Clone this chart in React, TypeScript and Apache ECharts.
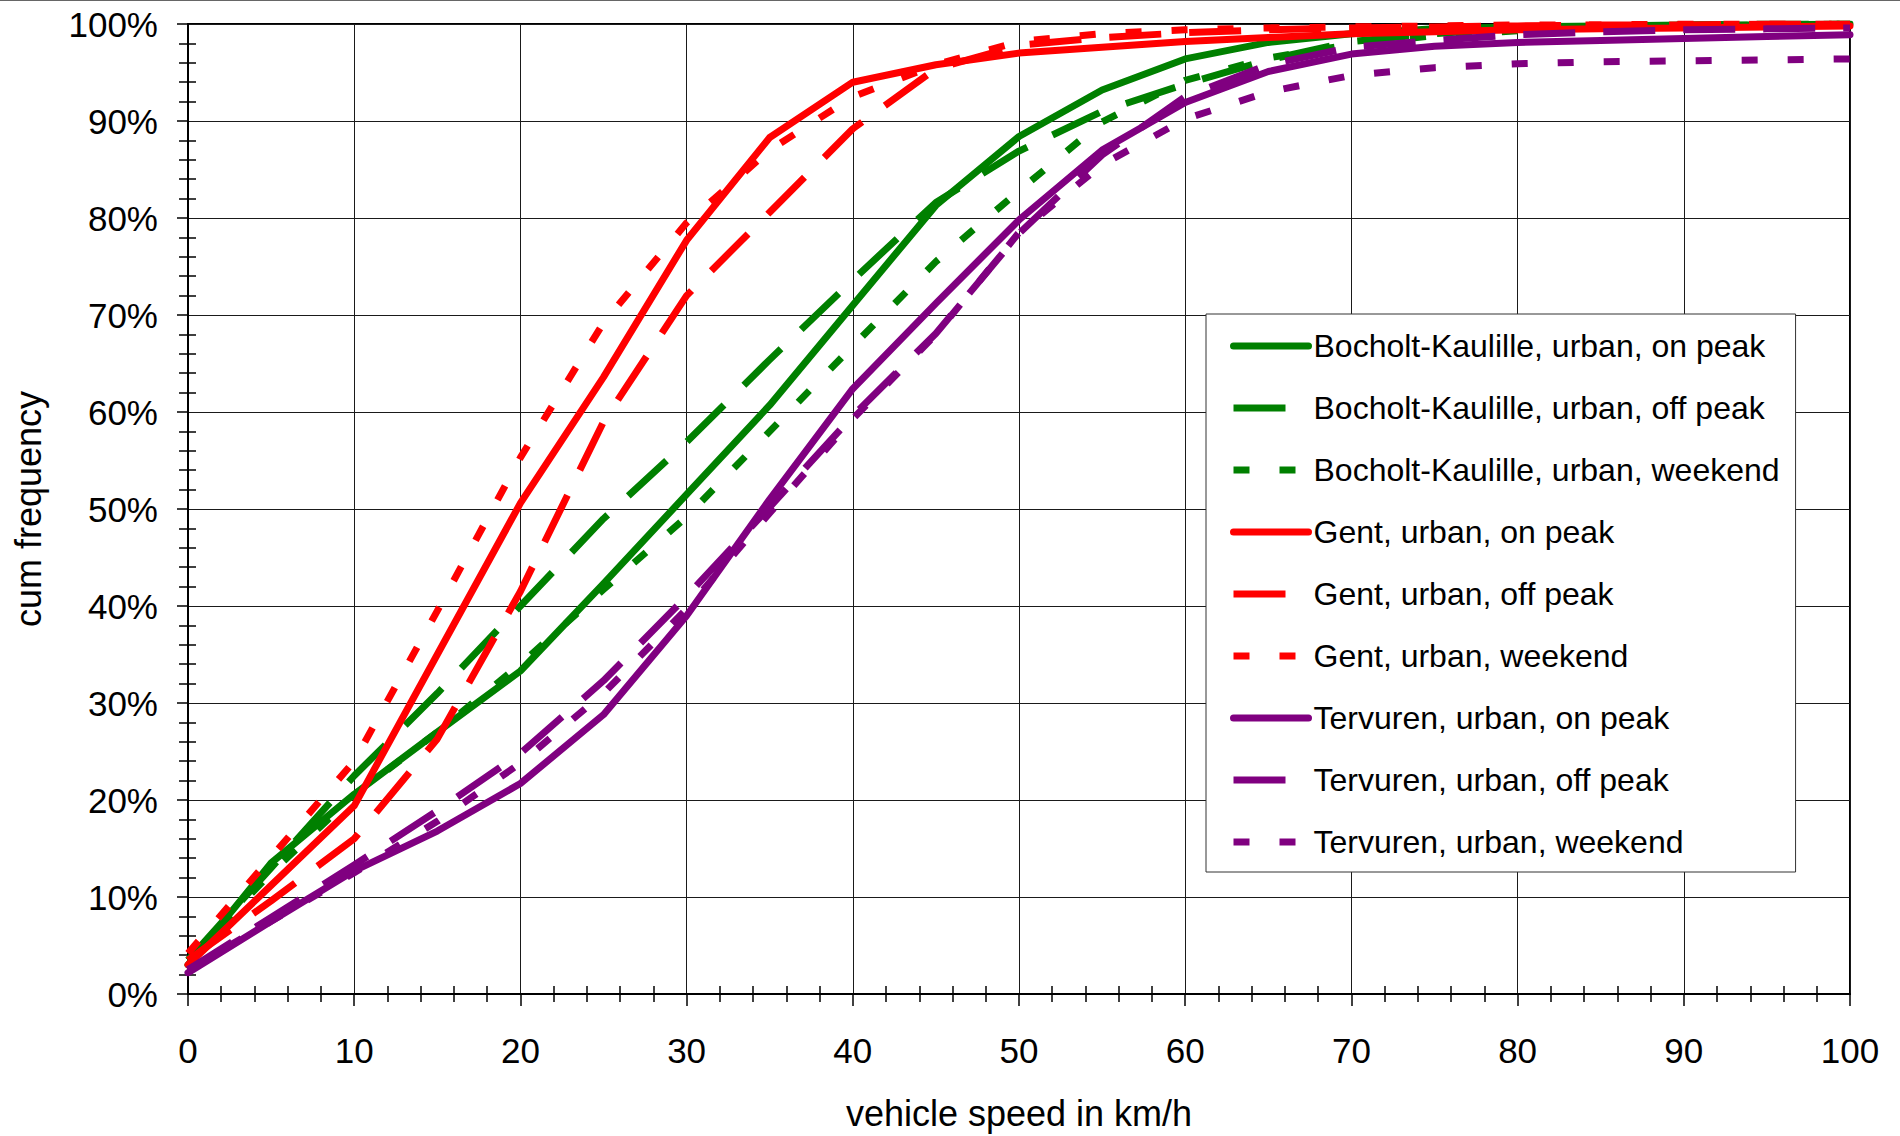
import React, { useEffect, useRef } from "react";
import * as echarts from "echarts";

const FONT = "'Liberation Sans', Arial, sans-serif";

// vehicle speed in km/h (x values)
const speeds = [0, 5, 10, 15, 20, 25, 30, 35, 40, 45, 50, 55, 60, 65, 70, 75, 80, 85, 90, 95, 100];

// cumulative frequency in %
const bocholtOnPeak = [3.0, 13.5, 20.6, 27.0, 33.3, 42.3, 51.5, 60.7, 71.0, 81.3, 88.4, 93.2, 96.4, 98.1, 99.0, 99.5, 99.7, 99.8, 99.9, 99.9, 100];
const bocholtOffPeak = [3.5, 13.0, 22.5, 31.0, 40.0, 49.0, 56.9, 65.4, 73.6, 81.6, 86.9, 91.0, 93.8, 96.3, 98.2, 99.0, 99.6, 99.8, 99.9, 100, 100];
const bocholtWeekend = [3.5, 12.5, 20.5, 27.0, 34.0, 41.7, 49.2, 58.0, 66.8, 75.5, 82.8, 89.9, 94.2, 96.5, 97.9, 98.8, 99.3, 99.6, 99.8, 99.9, 100];
const gentOnPeak = [3.0, 11.2, 19.4, 35.0, 50.6, 63.6, 77.7, 88.3, 94.0, 95.8, 97.0, 97.6, 98.2, 98.6, 99.0, 99.2, 99.4, 99.5, 99.6, 99.7, 99.8];
const gentOffPeak = [3.5, 9.6, 16.0, 26.3, 41.5, 59.0, 72.0, 80.6, 89.2, 95.4, 97.8, 98.6, 99.1, 99.4, 99.6, 99.7, 99.8, 99.9, 99.9, 100, 100];
const gentWeekend = [4.2, 14.1, 24.0, 39.5, 55.3, 69.2, 79.5, 87.0, 92.5, 95.8, 98.2, 99.0, 99.4, 99.6, 99.7, 99.8, 99.9, 99.9, 100, 100, 100];
const tervurenOnPeak = [2.2, 7.5, 12.7, 16.8, 21.7, 28.8, 39.0, 51.0, 62.4, 71.2, 79.8, 87.0, 91.9, 95.1, 96.9, 97.7, 98.1, 98.3, 98.5, 98.7, 98.9];
const tervurenOffPeak = [2.5, 7.9, 13.3, 18.9, 24.8, 32.3, 41.0, 50.2, 59.6, 68.1, 78.4, 86.5, 92.5, 95.8, 97.6, 98.3, 98.9, 99.2, 99.4, 99.5, 99.6];
const tervurenWeekend = [2.5, 7.5, 12.5, 17.8, 23.8, 31.0, 39.7, 49.6, 59.3, 68.0, 78.5, 85.5, 90.2, 93.0, 94.7, 95.5, 95.9, 96.1, 96.2, 96.3, 96.4];

const seriesNames = [
  "Bocholt-Kaulille, urban, on peak",
  "Bocholt-Kaulille, urban, off peak",
  "Bocholt-Kaulille, urban, weekend",
  "Gent, urban, on peak",
  "Gent, urban, off peak",
  "Gent, urban, weekend",
  "Tervuren, urban, on peak",
  "Tervuren, urban, off peak",
  "Tervuren, urban, weekend",
];
const seriesValues = [
  bocholtOnPeak, bocholtOffPeak, bocholtWeekend,
  gentOnPeak, gentOffPeak, gentWeekend,
  tervurenOnPeak, tervurenOffPeak, tervurenWeekend,
];
const GREEN = "#008000";
const RED = "#ff0000";
const PURPLE = "#800080";
const seriesColors = [GREEN, GREEN, GREEN, RED, RED, RED, PURPLE, PURPLE, PURPLE];
const seriesKinds = ["on", "off", "weekend", "on", "off", "weekend", "on", "off", "weekend"];

function dashFor(kind: string): any {
  return kind === "on" ? "solid" : kind === "off" ? [52, 28] : [16, 30];
}

export default function App() {
  const ref = useRef<HTMLDivElement>(null);
  useEffect(() => {
    const chart = echarts.init(ref.current as HTMLDivElement, null, { renderer: "svg" });
    const series = seriesNames.map((name, i) => {
      const kind = seriesKinds[i];
      return {
        name,
        type: "line",
        xAxisIndex: 0,
        yAxisIndex: 0,
        symbol: "none",
        showSymbol: false,
        data: speeds.map((s, j) => [s, seriesValues[i][j]]),
        lineStyle: { color: seriesColors[i], width: 7, type: dashFor(kind), cap: kind === "on" ? "round" : "butt", join: "round" },
        itemStyle: { color: seriesColors[i] },
        emphasis: { disabled: true },
      };
    });
    const legendData = seriesNames.map((name, i) => ({
      name,
      itemStyle: { opacity: 0 },
      lineStyle: {
        color: seriesColors[i],
        width: 7,
        type: dashFor(seriesKinds[i]),
        cap: seriesKinds[i] === "on" ? "round" : "butt",
        opacity: 1,
      },
    }));
    const tickStyle = { color: "#000", width: 1.5 };
    chart.setOption({
      animation: false,
      backgroundColor: "#fff",
      textStyle: { fontFamily: FONT, color: "#000" },
      grid: {
        left: 188, right: 50, top: 24, bottom: 137,
        show: true, borderColor: "#000", borderWidth: 2, backgroundColor: "transparent",
      },
      graphic: [
        { type: "line", shape: { x1: 0, y1: 0.5, x2: 1900, y2: 0.5 }, style: { stroke: "#666", lineWidth: 1 }, silent: true },
      ],
      xAxis: [
        {
          type: "value", min: 0, max: 100, interval: 10, position: "bottom",
          axisLine: { show: true, lineStyle: { color: "#000", width: 2 } },
          axisTick: { show: true, length: 12, lineStyle: tickStyle },
          minorTick: { show: true, splitNumber: 5, length: 8, lineStyle: tickStyle },
          splitLine: { show: true, lineStyle: { color: "#1a1a1a", width: 1 } },
          axisLabel: { fontSize: 35, color: "#000", margin: 39, fontFamily: FONT },
          name: "vehicle speed in km/h", nameLocation: "middle", nameGap: 101,
          nameTextStyle: { fontSize: 36, color: "#000", fontFamily: FONT },
        },
        {
          type: "value", min: 0, max: 100, interval: 10, position: "bottom",
          axisLine: { show: false },
          axisTick: { show: false, inside: true },
          minorTick: { show: true, splitNumber: 5, length: 8, lineStyle: tickStyle },
          splitLine: { show: false },
          axisLabel: { show: false },
        },
      ],
      yAxis: [
        {
          type: "value", min: 0, max: 100, interval: 10, position: "left",
          axisLine: { show: true, lineStyle: { color: "#000", width: 2 } },
          axisTick: { show: true, length: 11, lineStyle: tickStyle },
          minorTick: { show: true, splitNumber: 5, length: 9, lineStyle: tickStyle },
          splitLine: { show: true, lineStyle: { color: "#1a1a1a", width: 1 } },
          axisLabel: { fontSize: 35, color: "#000", margin: 30, formatter: "{value}%", fontFamily: FONT },
          name: "cum frequency", nameLocation: "middle", nameGap: 142,
          nameTextStyle: { fontSize: 36, color: "#000", fontFamily: FONT },
        },
        {
          type: "value", min: 0, max: 100, interval: 10, position: "left",
          axisLine: { show: false },
          axisTick: { show: false, inside: true },
          minorTick: { show: true, splitNumber: 5, length: 8, lineStyle: tickStyle },
          splitLine: { show: false },
          axisLabel: { show: false },
        },
      ],
      legend: {
        orient: "vertical", left: 1206, top: 314,
        itemWidth: 75, itemHeight: 36, itemGap: 26,
        padding: [14, 16, 12, 24],
        backgroundColor: "#fff", borderColor: "#333", borderWidth: 1,
        selectedMode: false,
        itemStyle: { opacity: 0 },
        lineStyle: { width: 7 },
        textStyle: { fontSize: 32, color: "#000", fontFamily: FONT, lineHeight: 36 },
        data: legendData,
      },
      series,
    });
    return () => chart.dispose();
  }, []);
  return (
    <div
      ref={ref}
      style={{ position: "fixed", left: 0, top: 0, width: 1900, height: 1136, background: "#fff" }}
    />
  );
}
